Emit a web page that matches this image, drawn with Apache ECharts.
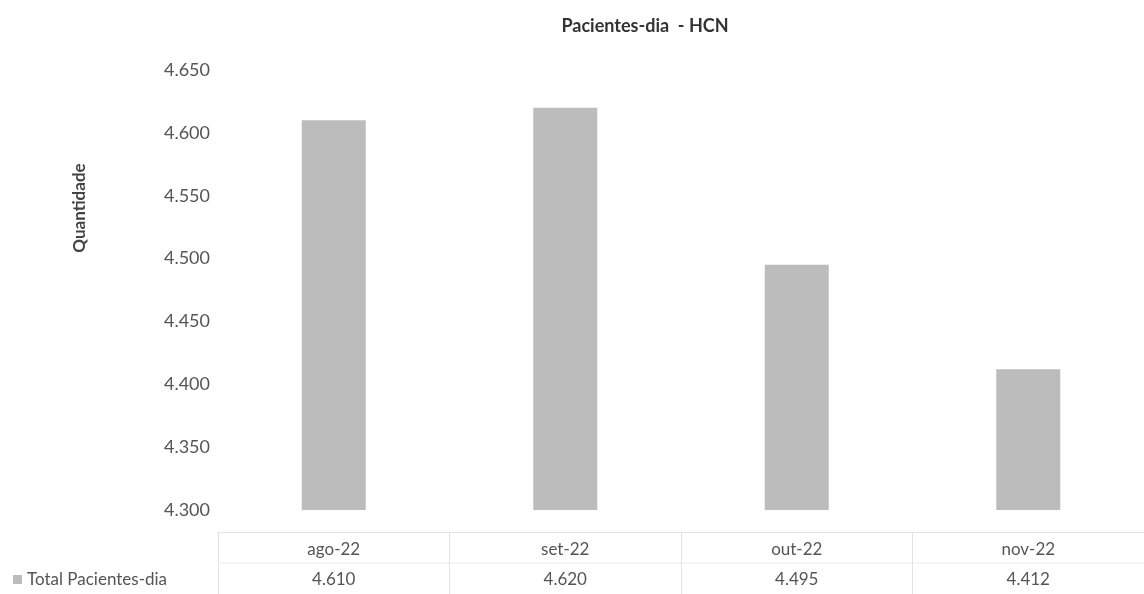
<!DOCTYPE html>
<html>
<head>
<meta charset="utf-8">
<script src="https://cdn.jsdelivr.net/npm/echarts@6/dist/echarts.min.js"></script>
<style>
  html, body { margin: 0; padding: 0; background: #fff; }
  #chart { width: 1144px; height: 594px; }
</style>
</head>
<body>
<div id="chart"></div>
<script>
// dados do gráfico
var meses = ["ago-22", "set-22", "out-22", "nov-22"];
var pacientesDia = [4.610, 4.620, 4.495, 4.412];
var yTicks = [4.300, 4.350, 4.400, 4.450, 4.500, 4.550, 4.600, 4.650];

var fmt = function (v) { return v.toFixed(3); };
var fonte = "Lato, 'Open Sans', sans-serif";

var myChart = echarts.init(document.getElementById("chart"));

var option = {
    backgroundColor: "#fff",
    textStyle: { fontFamily: fonte },
    title: {
        text: "Pacientes-dia  - HCN",
        left: 640, top: 12, textAlign: "center",
        textStyle: { fontSize: 18, fontWeight: "bold", color: "#333", fontFamily: fonte }
    },
    legend: {
        data: ["Total Pacientes-dia"],
        left: 8, top: 566,
        icon: "rect", itemWidth: 9, itemHeight: 9, itemGap: 4,
        textStyle: { fontSize: 17, color: "#555", fontFamily: fonte }
    },
    grid: { left: 218, right: 0, top: 70, bottom: 84, outerBoundsMode: "none", containLabel: false },
    xAxis: {
        type: "category",
        data: meses,
        offset: 22,
        axisLine: { show: true, lineStyle: { color: "#e2e2e2" } },
        axisTick: { show: true, length: 62, lineStyle: { color: "#e2e2e2" } },
        axisLabel: {
            margin: 3,
            interval: 0,
            lineHeight: 30,
            formatter: function (v, i) { return v + "\n" + fmt(pacientesDia[i]); },
            fontSize: 17, color: "#555", fontFamily: fonte
        }
    },
    yAxis: {
        type: "value",
        min: yTicks[0],
        max: yTicks[yTicks.length - 1],
        interval: 0.05,
        axisLine: { show: false },
        axisTick: { show: false },
        splitLine: { show: false },
        axisLabel: {
            margin: 8,
            formatter: fmt,
            fontSize: 18, color: "#555", fontFamily: fonte
        }
    },
    graphic: [
        {
            type: "text",
            x: 80, y: 208,
            rotation: Math.PI / 2,
            style: {
                text: "Quantidade",
                fontSize: 17, fontWeight: "bold", fill: "#444",
                fontFamily: fonte, align: "center", verticalAlign: "middle"
            }
        },
        {
            type: "line",
            shape: { x1: 218, y1: 563, x2: 1144, y2: 563 },
            style: { stroke: "#ececec", lineWidth: 1 }
        }
    ],
    series: [{
        name: "Total Pacientes-dia",
        type: "bar",
        data: pacientesDia,
        barWidth: 64,
        itemStyle: { color: "#bcbcbc" }
    }]
};

myChart.setOption(option);
</script>
</body>
</html>
